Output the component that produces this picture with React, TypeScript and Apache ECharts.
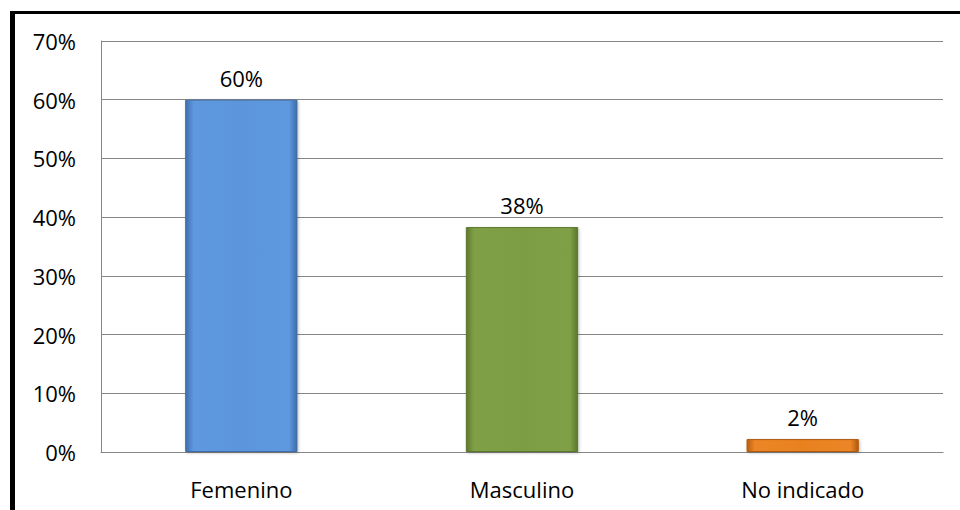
import React, { useEffect, useRef } from "react";
import * as echarts from "echarts";

const categories = ["Femenino", "Masculino", "No indicado"];
const values = [0.6, 0.383, 0.022];
const valueLabels = ["60%", "38%", "2%"];
const barColors = [
  ["#3F6FAE", "#5E98DE", "#5B95DB", "#3E6CA8"],
  ["#5E7A2E", "#80A047", "#7D9D44", "#5B772C"],
  ["#B65F10", "#EC8526", "#E8811F", "#B05A0E"],
];
const yTicks = [0, 0.1, 0.2, 0.3, 0.4, 0.5, 0.6, 0.7];

function barGradient(c: string[]) {
  return new echarts.graphic.LinearGradient(0, 0, 1, 0, [
    { offset: 0, color: c[0] },
    { offset: 0.07, color: c[1] },
    { offset: 0.5, color: c[2] },
    { offset: 0.93, color: c[1] },
    { offset: 1, color: c[3] },
  ]);
}

export default function App() {
  const ref = useRef<HTMLDivElement>(null);
  useEffect(() => {
    if (!ref.current) return;
    const chart = echarts.init(ref.current, undefined, { renderer: "svg" });
    const font = "'Open Sans', sans-serif";
    chart.setOption({
      animation: false,
      backgroundColor: "#ffffff",
      grid: { left: 101, top: 41, right: 17, bottom: 58 },
      graphic: [
        { type: "rect", shape: { x: 10, y: 11, width: 5, height: 499 }, style: { fill: "#000" } },
        { type: "rect", shape: { x: 10, y: 11, width: 950, height: 3 }, style: { fill: "#000" } },
      ],
      xAxis: {
        type: "category",
        data: categories,
        axisLine: { show: true, lineStyle: { color: "#868686", width: 1 } },
        axisTick: { show: false },
        axisLabel: { color: "#000", fontSize: 22, fontFamily: font, margin: 26 },
      },
      yAxis: {
        type: "value",
        min: 0,
        max: 0.7,
        interval: 0.1,
        axisLine: { show: true, lineStyle: { color: "#868686", width: 1 } },
        axisTick: { show: false },
        splitLine: { show: true, lineStyle: { color: "#868686", width: 1 } },
        axisLabel: {
          color: "#000",
          fontSize: 22,
          fontFamily: font,
          margin: 25,
          formatter: (v: number) => {
            const idx = yTicks.findIndex((t) => Math.abs(t - v) < 1e-9);
            return Math.round((idx >= 0 ? yTicks[idx] : v) * 100) + "%";
          },
        },
      },
      series: [
        {
          type: "bar",
          barWidth: "40%",
          data: values.map((v, i) => ({
            value: v,
            itemStyle: {
              color: barGradient(barColors[i]),
              borderColor: barColors[i][3],
              borderWidth: 1,
              shadowColor: "rgba(0,0,0,0.25)",
              shadowBlur: 3,
              shadowOffsetX: 1,
              shadowOffsetY: 1,
            },
            label: {
              show: true,
              position: "top",
              distance: 11,
              formatter: valueLabels[i],
              color: "#000",
              fontSize: 22,
              fontFamily: font,
            },
          })),
        },
      ],
    });
    return () => chart.dispose();
  }, []);
  return (
    <div
      ref={ref}
      style={{ position: "fixed", left: 0, top: 0, width: 960, height: 510 }}
    />
  );
}
